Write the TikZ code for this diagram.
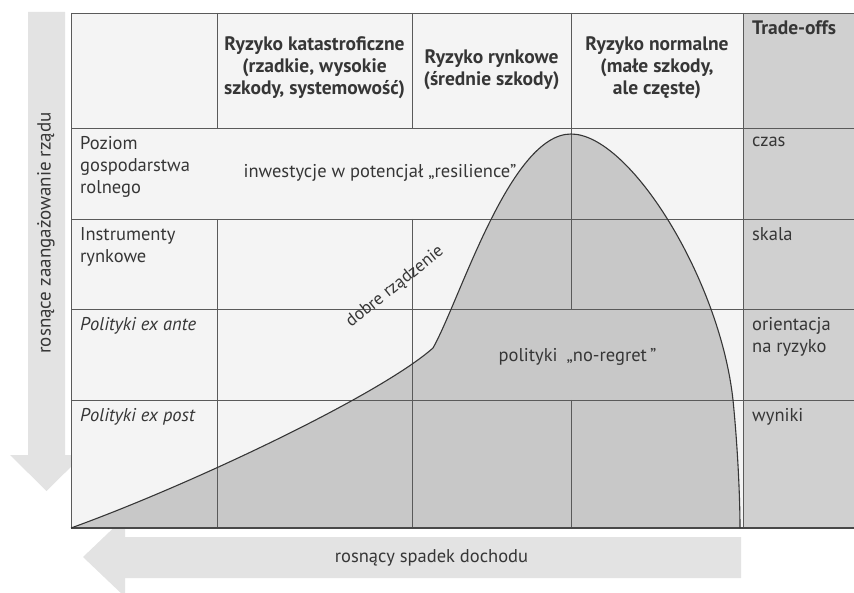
\documentclass[tikz,border=0pt]{standalone}
\usepackage{fontspec}
\setmainfont{PT Sans}
\definecolor{tablebg}{HTML}{F4F4F4}
\definecolor{tradegray}{HTML}{D0D0D0}
\definecolor{curvefill}{HTML}{C8C8C8}
\definecolor{arrowgray}{HTML}{E3E3E3}
\definecolor{linegray}{HTML}{5A5A5A}
\definecolor{txt}{HTML}{363636}
\begin{document}
\begin{tikzpicture}[x=1pt,y=-1pt,
  gridline/.style={draw=linegray, line width=0.9pt},
  lbl/.style={anchor=north west, align=left, text=txt, inner sep=0pt,
    font=\fontsize{18.5}{22}\selectfont},
  lbli/.style={lbl, font=\itshape\fontsize{18.5}{22}\selectfont},
  hdr/.style={align=center, text=txt, inner sep=0pt,
    font=\bfseries\fontsize{19.5}{21.8}\selectfont},
  plain/.style={text=txt, inner sep=0pt, font=\fontsize{18.5}{22}\selectfont}]
\useasboundingbox (0,0) rectangle (854,593);
% big arrows
\fill[arrowgray] (28,12) -- (65,12) -- (65,455) -- (83,455) -- (46.5,491)
  -- (10,455) -- (28,455) -- cycle;
\fill[arrowgray] (741,537) -- (125,537) -- (125,517) -- (83,557)
  -- (125,597) -- (125,578) -- (741,578) -- cycle;
% table backgrounds
\fill[tablebg] (71,13) rectangle (743,528);
\fill[tradegray] (743,13) rectangle (854,528);
% curve region
\fill[curvefill] (71,528) .. controls (190,485) and (380,395) .. (433,348)
  .. controls (460,300) and (510,134) .. (571,134)
  .. controls (630,134) and (720,280) .. (733,400)
  .. controls (738,450) and (740,500) .. (740,528) -- cycle;
% grid
\draw[gridline] (71,13) -- (854,13);
\draw[gridline] (71,128) -- (854,128);
\draw[gridline] (71,219) -- (854,219);
\draw[gridline] (71,309) -- (854,309);
\draw[gridline] (71,400) -- (854,400);
\draw[gridline] (71,13) -- (71,528);
\draw[gridline] (217,13) -- (217,128) (217,219) -- (217,528);
\draw[gridline] (412,13) -- (412,128) (412,219) -- (412,528);
\draw[gridline] (571,13) -- (571,309) (571,400) -- (571,528);
\draw[gridline] (743,13) -- (743,528);
\draw[draw=linegray!80!black, line width=1.6pt] (71,528) -- (854,528);
% curve outline
\draw[draw=txt, line width=1.1pt] (71,528) .. controls (190,485) and (380,395) .. (433,348)
  .. controls (460,300) and (510,134) .. (571,134)
  .. controls (630,134) and (720,280) .. (733,400)
  .. controls (738,450) and (740,500) .. (740,528);
% headers
\node[hdr] (h1) at (314.5,68) {Ryzyko katastroficzne\\(rzadkie, wysokie\\szkody, systemowość)};
\node[hdr] (h2) at (491.5,69.5) {Ryzyko rynkowe\\(średnie szkody)};
\node[hdr] (h3) at (657,67.5) {Ryzyko normalne\\(małe szkody,\\ale częste)};
\node[lbl, font=\bfseries\fontsize{19.5}{22}\selectfont] (h4) at (752,20) {Trade-offs};
% row labels
\node[lbl] (r1) at (80,136.5) {Poziom\\gospodarstwa\\rolnego};
\node[lbl] (r2) at (80,227.5) {Instrumenty\\rynkowe};
\node[lbli] (r3) at (80,317.5) {Polityki ex ante};
\node[lbli] (r4) at (80,408.5) {Polityki ex post};
% trade-offs
\node[lbl] (t1) at (752,136.5) {czas};
\node[lbl] (t2) at (752,227.5) {skala};
\node[lbl] (t3) at (752,317.5) {orientacja\\na ryzyko};
\node[lbl] (t4) at (752,408.5) {wyniki};
% inner texts
\node[plain, anchor=base] (inw) at (380,178) {inwestycje w potencjał „resilience”};
\node[plain, anchor=base] (nor) at (577.5,362) {polityki\hspace{9pt}„no-regret\,”};
\node[plain, rotate=38.5, font=\fontsize{17.5}{20}\selectfont] (dob) at (395,287) {dobre rządzenie};
% arrow labels
\node[plain, rotate=90, font=\fontsize{19}{22}\selectfont] (ax1) at (46,233) {rosnące zaangażowanie rządu};
\node[plain, anchor=base] (ax2) at (431.5,562) {rosnący spadek dochodu};
\end{tikzpicture}
\end{document}
